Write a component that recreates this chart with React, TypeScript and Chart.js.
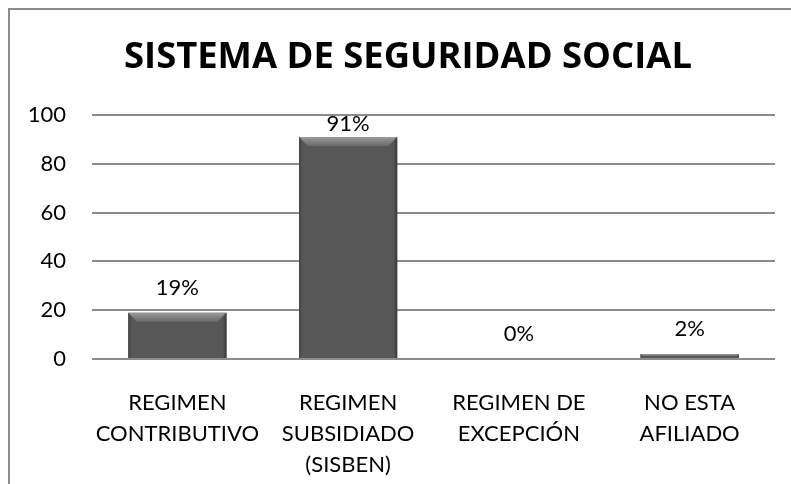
import React, { useEffect, useRef } from "react";
import { Chart, registerables } from "chart.js";

Chart.register(...registerables);

const TITLE = "SISTEMA DE SEGURIDAD SOCIAL";
const categories: string[][] = [
  ["REGIMEN", "CONTRIBUTIVO"],
  ["REGIMEN", "SUBSIDIADO", "(SISBEN)"],
  ["REGIMEN DE", "EXCEPCIÓN"],
  ["NO ESTA", "AFILIADO"],
];
const values: number[] = [19, 91, 0, 2];
const valueLabels: string[] = ["19%", "91%", "0%", "2%"];
const yTicks: number[] = [0, 20, 40, 60, 80, 100];

const FONT = "Lato, 'Open Sans', sans-serif";
const TITLE_FONT = "'Open Sans', Lato, sans-serif";

const bevelPlugin = {
  id: "bevel",
  afterDatasetsDraw(chart: any) {
    const ctx = chart.ctx;
    const meta = chart.getDatasetMeta(0);
    meta.data.forEach((bar: any) => {
      const { x, y, base, width } = bar.getProps(["x", "y", "base", "width"], true);
      const h = base - y;
      if (h <= 0.5) return;
      const l = x - width / 2;
      const r = x + width / 2;
      const b = Math.min(9, h / 2);
      ctx.save();
      const g = ctx.createLinearGradient(0, y, 0, y + b);
      g.addColorStop(0, "#9a9a9a");
      g.addColorStop(1, "#6a6a6a");
      ctx.fillStyle = g;
      ctx.beginPath();
      ctx.moveTo(l, y);
      ctx.lineTo(r, y);
      ctx.lineTo(r - b, y + b);
      ctx.lineTo(l + b, y + b);
      ctx.closePath();
      ctx.fill();
      const e1 = Math.min(4, b);
      const gl = ctx.createLinearGradient(l, 0, l + e1, 0);
      gl.addColorStop(0, "#3e3e3e");
      gl.addColorStop(1, "rgba(85,85,85,0)");
      ctx.fillStyle = gl;
      ctx.beginPath();
      ctx.moveTo(l, y);
      ctx.lineTo(l + e1, y + e1);
      ctx.lineTo(l + e1, base);
      ctx.lineTo(l, base);
      ctx.closePath();
      ctx.fill();
      const e2 = Math.min(5, b);
      const gr = ctx.createLinearGradient(r - e2, 0, r, 0);
      gr.addColorStop(0, "rgba(85,85,85,0)");
      gr.addColorStop(1, "#333333");
      ctx.fillStyle = gr;
      ctx.beginPath();
      ctx.moveTo(r, y);
      ctx.lineTo(r - e2, y + e2);
      ctx.lineTo(r - e2, base);
      ctx.lineTo(r, base);
      ctx.closePath();
      ctx.fill();
      ctx.restore();
    });
  },
};

const labelPlugin = {
  id: "labelsAndTitle",
  afterDraw(chart: any) {
    const ctx = chart.ctx;
    const area = chart.chartArea;
    ctx.save();
    ctx.fillStyle = "#000";
    ctx.textAlign = "center";
    ctx.textBaseline = "alphabetic";
    ctx.font = `bold 36.4px ${TITLE_FONT}`;
    ctx.fillText(TITLE, 408, 68);
    ctx.font = `22px ${FONT}`;
    const meta = chart.getDatasetMeta(0);
    meta.data.forEach((bar: any, i: number) => {
      const yy = Math.max(bar.y - 18, area.top + 16);
      ctx.fillText(valueLabels[i], bar.x, yy);
    });
    ctx.restore();
  },
};

export default function App() {
  const ref = useRef<HTMLCanvasElement>(null);
  useEffect(() => {
    if (!ref.current) return;
    const chart = new Chart(ref.current, {
      type: "bar",
      data: {
        labels: categories as any,
        datasets: [
          {
            data: values,
            backgroundColor: "#575757",
            borderWidth: 0,
            categoryPercentage: 1,
            barPercentage: 0.575,
          },
        ],
      },
      options: {
        responsive: false,
        animation: false,
        layout: { padding: { top: 115, right: 16, left: 0, bottom: 0 } },
        plugins: {
          legend: { display: false },
          tooltip: { enabled: false },
          title: { display: false },
        },
        scales: {
          x: {
            grid: { display: false },
            border: { display: false },
            ticks: {
              color: "#000",
              font: { family: FONT, size: 22, lineHeight: 1.41 },
              padding: 20,
              maxRotation: 0,
              autoSkip: false,
            },
            afterFit: (s: any) => {
              s.height = 125;
            },
          },
          y: {
            min: 0,
            max: 100,
            afterBuildTicks: (s: any) => {
              s.ticks = yTicks.map((v) => ({ value: v }));
            },
            grid: { color: "#8c8c8c", lineWidth: 2, drawTicks: false },
            border: { display: false },
            ticks: {
              color: "#000",
              font: { family: FONT, size: 22 },
              padding: 26,
            },
            afterFit: (s: any) => {
              s.width = 92;
            },
          },
        },
      },
      plugins: [bevelPlugin, labelPlugin],
    });
    return () => chart.destroy();
  }, []);
  return (
    <div
      style={{
        position: "fixed",
        left: 0,
        top: 0,
        width: 791,
        height: 484,
        overflow: "hidden",
        background: "#fff",
      }}
    >
      <canvas ref={ref} width={791} height={484} style={{ position: "absolute", left: 0, top: 0 }} />
      <div
        style={{
          position: "absolute",
          left: 8,
          top: 8,
          width: 900,
          height: 600,
          border: "2px solid #8c8c8c",
          pointerEvents: "none",
        }}
      />
    </div>
  );
}
